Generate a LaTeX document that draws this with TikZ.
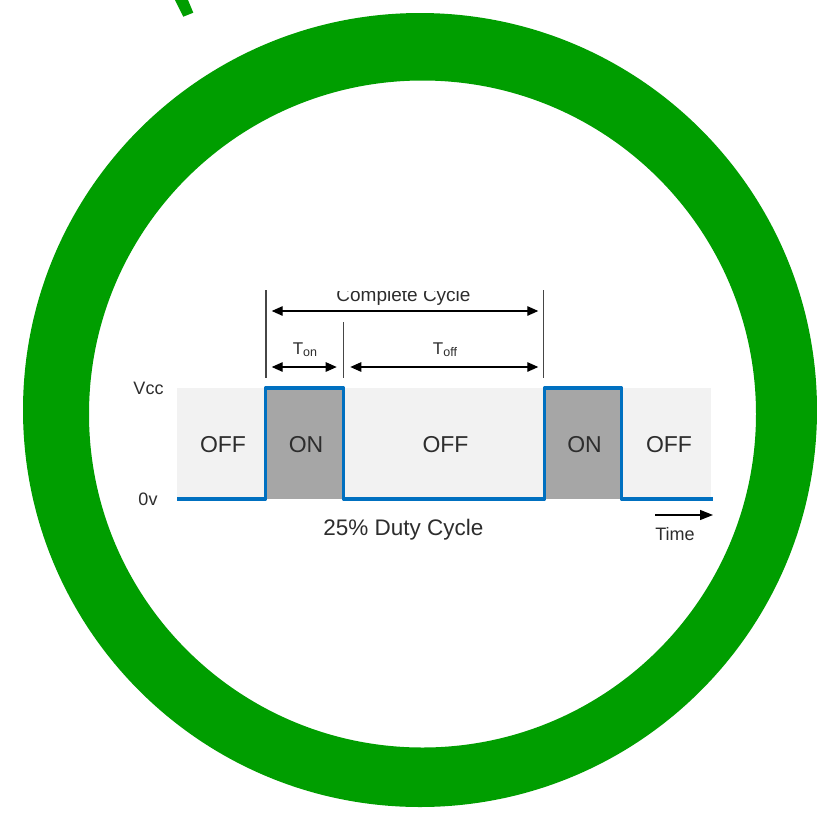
\documentclass[tikz,border=0pt]{standalone}
\usepackage{fontspec}
\setmainfont{Liberation Sans}
\usetikzlibrary{arrows.meta}
\definecolor{ringgreen}{RGB}{0,158,0}
\definecolor{wave}{RGB}{0,112,192}
\definecolor{offbg}{RGB}{242,242,242}
\definecolor{onbg}{RGB}{166,166,166}
\definecolor{txt}{RGB}{45,45,45}
\definecolor{extline}{RGB}{70,70,70}
\begin{document}
\begin{tikzpicture}[x=1pt,y=-1pt,
  lbl/.style={inner sep=0pt,anchor=base,text=txt},
  dimarrow/.style={draw=black,line width=1.3pt,{Triangle[length=11pt,width=9.5pt]}-{Triangle[length=11pt,width=9.5pt]}},
  timearrow/.style={draw=black,line width=1.3pt,-{Triangle[length=13pt,width=10pt]}},
  extl/.style={draw=extline,line width=1.3pt},
  wavel/.style={draw=wave,line width=3.5pt,line join=round},
  ]
\useasboundingbox (0,0) rectangle (817,815);
\fill[white] (0,0) rectangle (817,815);
% green ring
\fill[ringgreen,even odd rule] (420,410) circle[radius=397] (422.5,414) circle[radius=333.5];
\fill[ringgreen] (175,0) -- (188,0) -- (193.3,12.7) -- (183.3,16.7) -- cycle;
% backgrounds
\fill[offbg] (177,388) rectangle (711,499);
\fill[onbg] (265.5,388) rectangle (343.5,499);
\fill[onbg] (544.5,388) rectangle (621.5,499);
% waveform
\draw[wavel] (177,499) -- (265.5,499) -- (265.5,388) -- (343.5,388) -- (343.5,499)
  -- (544.5,499) -- (544.5,388) -- (621.5,388) -- (621.5,499) -- (713,499);
% state labels
\node[lbl,font=\fontsize{23}{27}\selectfont] (off1) at (223,452) {OFF};
\node[lbl,font=\fontsize{23}{27}\selectfont] (on1) at (306,452) {ON};
\node[lbl,font=\fontsize{23}{27}\selectfont] (off2) at (445.5,452) {OFF};
\node[lbl,font=\fontsize{23}{27}\selectfont] (on2) at (584.5,452) {ON};
\node[lbl,font=\fontsize{23}{27}\selectfont] (off3) at (669,452) {OFF};
% axis labels
\node[lbl,font=\fontsize{18}{22}\selectfont] (vcc) at (148.5,394) {Vcc};
\node[lbl,font=\fontsize{18}{22}\selectfont] (zero) at (148,505) {0v};
\node[lbl,font=\fontsize{22.5}{27}\selectfont] (duty) at (403.5,535) {25\% Duty Cycle};
\node[lbl,font=\fontsize{18}{22}\selectfont] (time) at (675,540) {Time};
\coordinate (ta) at (655,515);
\coordinate (tb) at (713,515);
\draw[timearrow] (ta) -- (tb);
% extension lines
\coordinate (e1a) at (266,290); \coordinate (e1b) at (266,378);
\coordinate (e2a) at (343.3,322); \coordinate (e2b) at (343.3,378);
\coordinate (e3a) at (543.5,290); \coordinate (e3b) at (543.5,378);
\draw[extl] (e1a) -- (e1b);
\draw[extl] (e2a) -- (e2b);
\draw[extl] (e3a) -- (e3b);
% dimension arrows
\coordinate (ca) at (271.7,311); \coordinate (cb) at (538.3,311);
\coordinate (oa) at (271.7,367); \coordinate (ob) at (336.7,367);
\coordinate (fa) at (350.3,367); \coordinate (fb) at (538.3,367);
\draw[dimarrow] (ca) -- (cb);
\draw[dimarrow] (oa) -- (ob);
\draw[dimarrow] (fa) -- (fb);
\begin{scope}
\clip (250,291.5) rectangle (560,330);
\node[lbl,font=\fontsize{19}{23}\selectfont] (cc) at (403.5,301) {Complete Cycle};
\end{scope}
\node[lbl,font=\fontsize{17}{20}\selectfont] (ton) at (305,354) {T\raisebox{-2.5pt}{\fontsize{12.5}{14}\selectfont on}};
\node[lbl,font=\fontsize{17}{20}\selectfont] (toff) at (445,354) {T\raisebox{-2.5pt}{\fontsize{12.5}{14}\selectfont off}};
\end{tikzpicture}
\end{document}
